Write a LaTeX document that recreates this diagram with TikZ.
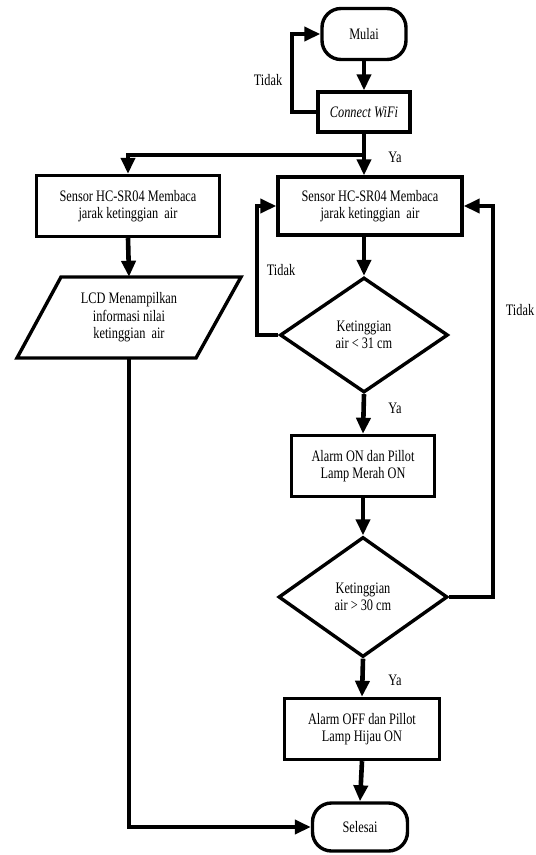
\documentclass[tikz,border=0pt]{standalone}
\usepackage{fontspec}
\setmainfont{Liberation Serif}[FakeStretch=0.77]
\usetikzlibrary{arrows.meta,shapes.geometric,calc}
\begin{document}
\begin{tikzpicture}[x=1pt,y=-1pt,
  every node/.style={font=\fontsize{16}{17.5}\selectfont, align=center, inner sep=0pt},
  box/.style={draw, line width=3.4pt, rectangle},
  term/.style={draw, line width=3.4pt, rectangle, rounded corners=19pt},
  dec/.style={draw, line width=3.4pt, diamond},
  flow/.style={line width=4.6pt, -{Triangle[length=16pt,width=14pt]}},
  lbl/.style={}]
\useasboundingbox (0,0) rectangle (536,855);
\fill[white] (0,0) rectangle (536,855);

\node[term, minimum width=84pt, minimum height=51pt] (mulai) at (364,34) {Mulai};
\node[box, minimum width=92pt, minimum height=40pt] (wifi) at (364,112) {\itshape Connect WiFi};
\node[box, minimum width=183pt, minimum height=61pt] (sensL) at (128,206) {Sensor HC-SR04 Membaca\\jarak ketinggian\ \ air};
\node[minimum width=180pt, minimum height=81pt] (lcd) at (129,317.5) {LCD Menampilkan\\informasi nilai\\ketinggian\ \ air};
\draw[line width=3.4pt, line join=miter] (61,277) -- (241,277) -- (196,358) -- (17,358) -- cycle;
\node[box, minimum width=184pt, minimum height=58pt] (sensR) at (370,206) {Sensor HC-SR04 Membaca\\jarak ketinggian\ \ air};
\node[dec, minimum width=168pt, minimum height=115pt] (d1) at (364,335) {Ketinggian\\air < 31 cm};
\node[box, minimum width=143pt, minimum height=61pt] (aon) at (363,466) {Alarm ON dan Pillot\\Lamp Merah ON};
\node[dec, minimum width=169pt, minimum height=120pt] (d2) at (363,597) {Ketinggian\\air > 30 cm};
\node[box, minimum width=155pt, minimum height=61pt] (aoff) at (362,729) {Alarm OFF dan Pillot\\Lamp Hijau ON};
\node[term, minimum width=95pt, minimum height=48pt] (selesai) at (360,827) {Selesai};

\node[lbl] (t1) at (268,80) {Tidak};
\node[lbl] (y1) at (395,157) {Ya};
\node[lbl] (t2) at (281,270) {Tidak};
\node[lbl] (y2) at (395,408) {Ya};
\node[lbl] (t3) at (520,310) {Tidak};
\node[lbl] (y3) at (395,680) {Ya};

\coordinate (lp1) at (292,112);
\coordinate (br) at (364,155);
\coordinate (lp2) at (257,335);
\coordinate (lp3) at (493,597);

\draw[flow] (mulai.south) -- (wifi.north);
\draw[flow] (wifi.west) -- (lp1) |- (mulai.west);
\draw[flow] (wifi.south) -- (wifi.south |- sensR.north);
\draw[flow] (br) -| (sensL.north);
\draw[flow] (sensL.south) -- (lcd.north);
\draw[flow] (lcd.south) |- (selesai.west);
\draw[flow] (d1.north |- sensR.south) -- (d1.north);
\draw[flow] (d1.west) -- (lp2) |- (sensR.west);
\draw[flow] (d1.south) -- (aon.north);
\draw[flow] (aon.south) -- (d2.north);
\draw[flow] (d2.east) -- (lp3) |- (sensR.east);
\draw[flow] (d2.south) -- (aoff.north);
\draw[flow] (aoff.south) -- (selesai.north);
\end{tikzpicture}
\end{document}
